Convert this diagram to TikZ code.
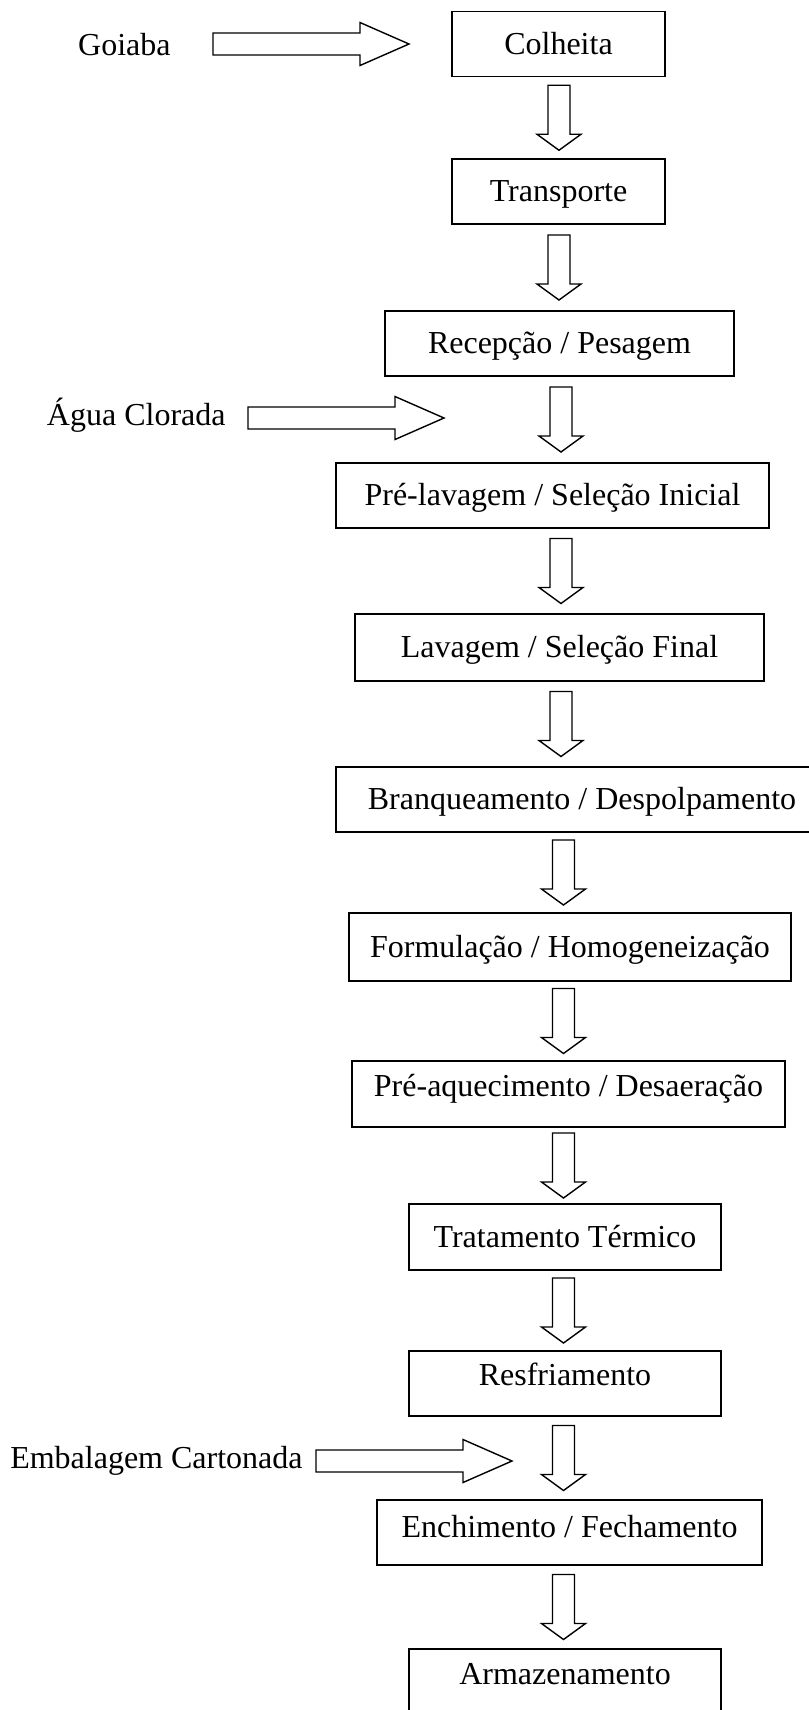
\documentclass[tikz,border=0pt]{standalone}
\usepackage{fontspec}
\setmainfont{Liberation Serif}
\usepackage{tikz}
\usetikzlibrary{calc}

\begin{document}
\begin{tikzpicture}[x=0.5pt,y=-0.5pt,
    font=\fontsize{16}{19}\selectfont,
    stage/.style={draw, line width=0.7pt, inner sep=0pt, minimum height=32.5pt, text height=12pt, text depth=2pt},
    raised/.style={text depth=10pt},
    side/.style={anchor=east, inner sep=0pt, text height=11pt, text depth=4pt},
    blockline/.style={draw, line width=0.7pt, line join=miter, fill=white}]
    \useasboundingbox (0,0) rectangle (809,1710);

    \node[stage, minimum width=106.5pt] (colheita) at (558.5,44) {Colheita};
    \node[stage, minimum width=106.5pt] (transporte) at (558.5,191.5) {Transporte};
    \node[stage, minimum width=174.5pt] (recepcao) at (559.5,343.5) {Recepção / Pesagem};
    \node[stage, minimum width=216.5pt] (prelavagem) at (552.5,495.5) {Pré-lavagem / Seleção Inicial};
    \node[stage, minimum width=204.5pt, minimum height=33.5pt] (lavagem) at (559.5,647.5) {Lavagem / Seleção Final};
    \node[stage, minimum width=246pt] (branqueamento) at (582,799.5) {Branqueamento / Despolpamento};
    \node[stage, minimum width=221pt, minimum height=34pt] (formulacao) at (570,947) {Formulação / Homogeneização};
    \node[stage, raised, minimum width=216.5pt, minimum height=33pt] (preaquecimento) at (568.5,1094) {Pré-aquecimento / Desaeração};
    \node[stage, minimum width=156pt, minimum height=33pt] (tratamento) at (565,1237) {Tratamento Térmico};
    \node[stage, raised, minimum width=156pt] (resfriamento) at (565,1383.5) {Resfriamento};
    \node[stage, minimum width=192.5pt, text depth=7pt] (enchimento) at (569.5,1532.5) {Enchimento / Fechamento};
    \node[stage, raised, minimum width=156pt, minimum height=33pt] (armazenamento) at (565,1682) {Armazenamento};

    \node[side] (goiaba) at (171,48) {Goiaba};
    \node[side] (agua) at (226,418) {Água Clorada};
    \node[side] (embalagem) at (303,1461) {Embalagem Cartonada};

    \coordinate (goiabaTip) at (409,44);
    \coordinate (aguaTip) at (444,418);
    \coordinate (embalagemTip) at (512,1461);

    \foreach \a/\b/\x in {colheita/transporte/559, transporte/recepcao/559,
        recepcao/prelavagem/561, prelavagem/lavagem/561, lavagem/branqueamento/561,
        branqueamento/formulacao/563.5, formulacao/preaquecimento/563.5,
        preaquecimento/tratamento/563.5, tratamento/resfriamento/563.5,
        resfriamento/enchimento/563.5, enchimento/armazenamento/563.5}{
        \coordinate (m) at ($(\a.south)!0.5!(\b.north)$);
        \coordinate (ax) at (\x,0);
        \draw[blockline] ($(ax |- m)+(-11,-32.5)$) -- ++(22,0) -- ++(0,49) -- ++(11,0)
            -- ++(-22,16) -- ++(-22,-16) -- ++(11,0) -- cycle;
    }

    \foreach \l/\g/\t in {goiaba/42/goiabaTip, agua/22/aguaTip, embalagem/13/embalagemTip}{
        \draw[blockline] ($(\l.east |- \t)+(\g,-11)$) -- ($(\t)+(-49,-11)$) -- ++(0,-10.5)
            -- (\t) -- ($(\t)+(-49,21.5)$) -- ++(0,-10.5) -- ($(\l.east |- \t)+(\g,11)$) -- cycle;
    }
\end{tikzpicture}
\end{document}
